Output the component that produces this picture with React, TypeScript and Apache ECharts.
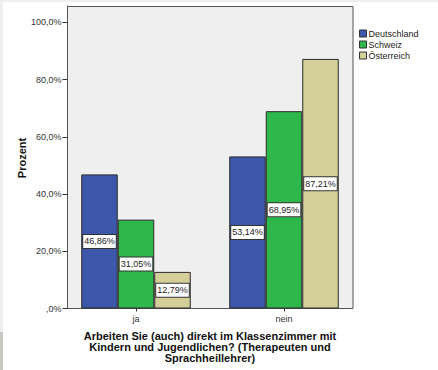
import React, { useEffect, useRef } from "react";
import * as echarts from "echarts";

// Answer categories on the x axis
const categories = ["ja", "nein"];

// Share of respondents per country (percent)
const deutschland = [46.86, 53.14];
const schweiz = [31.05, 68.95];
const oesterreich = [12.79, 87.21];

const seriesNames = ["Deutschland", "Schweiz", "Österreich"];
const seriesColors = ["#3d57aa", "#2eb74b", "#d4cf98"];

// Tick values on the percentage axis
const yTicks = [0, 20, 40, 60, 80, 100];

const xTitle =
  "Arbeiten Sie (auch) direkt im Klassenzimmer mit\nKindern und Jugendlichen? (Therapeuten und\nSprachheillehrer)";
const yTitle = "Prozent";

const FONT = "Liberation Sans, Arial, sans-serif";

const fmtPct = (v: number, digits: number) => {
  if (v === 0) return ",0%";
  return v.toFixed(digits).replace(".", ",") + "%";
};

export default function App() {
  const ref = useRef<HTMLDivElement>(null);

  useEffect(() => {
    if (!ref.current) return;
    const chart = echarts.init(ref.current, undefined, { renderer: "svg" });

    const values = [deutschland, schweiz, oesterreich];

    const series = values.map((data, i) => ({
      name: seriesNames[i],
      type: "bar" as const,
      data,
      barWidth: 36.5,
      barGap: "0%",
      itemStyle: { color: seriesColors[i], borderColor: "#2a2a2a", borderWidth: 1 },
      label: {
        show: true,
        position: "inside" as const,
        formatter: (p: any) => fmtPct(p.value, 2),
        fontFamily: FONT,
        fontSize: 9,
        color: "#222",
        backgroundColor: "#ffffff",
        borderColor: "#333",
        borderWidth: 1,
        padding: [2, 1, 2, 1],
      },
    }));

    chart.setOption({
      animation: false,
      backgroundColor: "#ffffff",
      textStyle: { fontFamily: FONT },
      graphic: [
        { type: "rect", z: -10, shape: { x: 0, y: 0, width: 438, height: 2 }, style: { fill: "#eeeeee" } },
        { type: "rect", z: -10, shape: { x: 0, y: 0, width: 3, height: 332 }, style: { fill: "#eeeeee" } },
        { type: "rect", z: -10, shape: { x: 0, y: 332, width: 3, height: 38 }, style: { fill: "#c6c7bf" } },
        {
          type: "rect",
          z: -5,
          shape: { x: 67.5, y: 6.5, width: 285.5, height: 302 },
          style: { fill: "#efefef", stroke: "#555555", lineWidth: 1 },
        },
        {
          type: "text",
          x: 22,
          y: 158,
          rotation: Math.PI / 2,
          style: {
            text: yTitle,
            fontFamily: FONT,
            fontSize: 11,
            fontWeight: "bold",
            fill: "#111",
            align: "center",
            verticalAlign: "middle",
          },
        },
      ],
      grid: { left: 62, right: 80, top: 6, bottom: 61.5 },
      legend: {
        orient: "vertical",
        left: 354,
        top: 24,
        itemWidth: 7,
        itemHeight: 7,
        itemGap: 2,
        icon: "rect",
        data: seriesNames,
        itemStyle: { borderColor: "#333", borderWidth: 1 },
        textStyle: { fontFamily: FONT, fontSize: 9, color: "#222", padding: [0, 0, 0, -3] },
      },
      xAxis: {
        type: "category",
        data: categories,
        axisLine: { show: false },
        axisTick: { show: true, alignWithLabel: true, length: 3, lineStyle: { color: "#333" } },
        axisLabel: { fontFamily: FONT, fontSize: 9, color: "#333", margin: 6 },
        name: xTitle,
        nameLocation: "middle",
        nameGap: 22,
        nameTextStyle: {
          fontFamily: FONT,
          fontSize: 11,
          fontWeight: "bold",
          color: "#111",
          lineHeight: 11,
          align: "center",
        },
      },
      yAxis: {
        type: "value",
        min: 0,
        max: 105.7,
        offset: -5.5,
        splitLine: { show: false },
        axisLine: { show: true, lineStyle: { color: "#555" } },
        axisTick: { show: true, length: 5, customValues: yTicks, lineStyle: { color: "#333" } },
        axisLabel: {
          customValues: yTicks,
          formatter: (v: number) => fmtPct(v, 1),
          fontFamily: FONT,
          fontSize: 9,
          color: "#333",
          margin: 6,
        },
      },
      series,
    });

    return () => chart.dispose();
  }, []);

  return (
    <div
      ref={ref}
      style={{ position: "fixed", left: 0, top: 0, width: 438, height: 370 }}
    />
  );
}
